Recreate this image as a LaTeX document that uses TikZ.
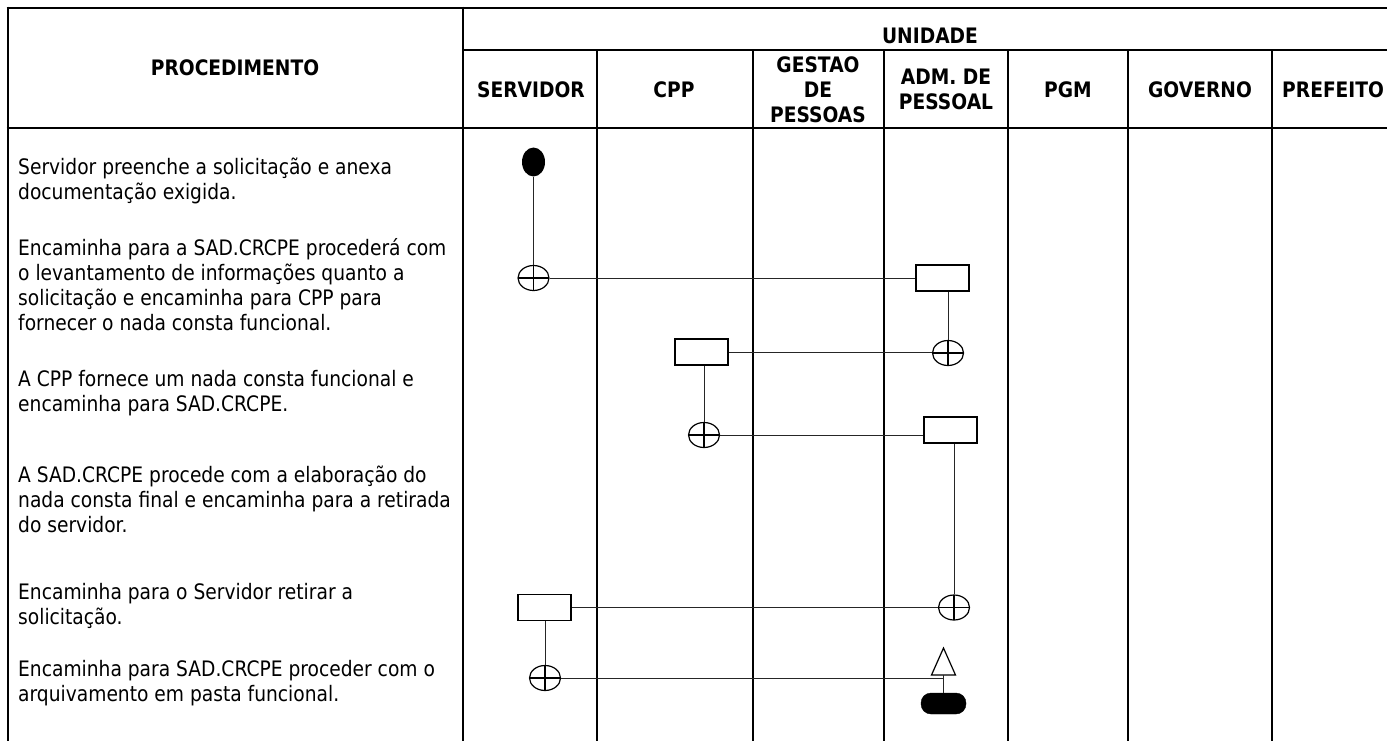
\documentclass[tikz,border=0pt]{standalone}
\usepackage{fontspec}
\newfontfamily\tfont[FakeStretch=0.876]{DejaVu Sans}
\usetikzlibrary{shapes.geometric}
\begin{document}
\begin{tikzpicture}[x=1pt,y=-1pt,
  rule/.style={line width=2.6pt},
  link/.style={line width=1pt, black!85},
  task/.style={draw, rectangle, line width=1.2pt, minimum width=53pt, minimum height=26pt, inner sep=0pt},
  joint/.style={draw, ellipse, line width=1.2pt, minimum width=31pt, minimum height=25pt, inner sep=0pt,
    path picture={\draw[line width=1.2pt]
      (path picture bounding box.north) -- (path picture bounding box.south)
      (path picture bounding box.west) -- (path picture bounding box.east);}},
  txt/.style={anchor=base west, inner sep=0pt, font=\tfont\fontsize{21.3}{25}\selectfont},
  head/.style={anchor=base, inner sep=0pt, font=\tfont\bfseries\fontsize{21.3}{25}\selectfont},
]
\useasboundingbox (0,0) rectangle (1387,741);
\clip (0,0) rectangle (1387,741);

% table rules
\draw[rule] (6.7,8) -- (1387,8);
\draw[rule] (8,6.7) -- (8,741);
\draw[rule] (463,6.7) -- (463,741);
\draw[rule] (463,50) -- (1387,50);
\draw[rule] (6.7,128) -- (1387,128);
\foreach \x in {597,753,884,1008,1128,1272} \draw[rule] (\x,50) -- (\x,741);

% header
\node[head] (hproc) at (235,76) {PROCEDIMENTO};
\node[head] (huni) at (930,44) {UNIDADE};
\node[head] (hserv) at (531,98) {SERVIDOR};
\node[head] (hcpp) at (674,98) {CPP};
\node[head] (hg1) at (818,73) {GESTAO};
\node[head] (hg2) at (818,98) {DE};
\node[head] (hg3) at (818,123) {PESSOAS};
\node[head] (ha1) at (946,85) {ADM. DE};
\node[head] (ha2) at (946,110) {PESSOAL};
\node[head] (hpgm) at (1068,98) {PGM};
\node[head] (hgov) at (1200,98) {GOVERNO};
\node[head, anchor=base west] (hpref) at (1282,98) {PREFEITO};

% procedure text
\foreach \yy/\tx [count=\i] in {
  175/{Servidor preenche a solicitação e anexa},
  200/{documentação exigida.},
  255/{Encaminha para a SAD.CRCPE procederá com},
  280/{o levantamento de informações quanto a},
  305/{solicitação e encaminha para CPP para},
  330/{fornecer o nada consta funcional.},
  386/{A CPP fornece um nada consta funcional e},
  411/{encaminha para SAD.CRCPE.},
  482/{A SAD.CRCPE procede com a elaboração do},
  507/{nada consta final e encaminha para a retirada},
  532/{do servidor.},
  599/{Encaminha para o Servidor retirar a},
  624/{solicitação.},
  676/{Encaminha para SAD.CRCPE proceder com o},
  701/{arquivamento em pasta funcional.}}
  {\node[txt] (t\i) at (18,\yy) {\tx};}

% flow symbols
\node[fill=black, ellipse, minimum width=23pt, minimum height=29pt, inner sep=0pt] (start) at (533.5,162) {};
\node[joint] (c1) at (533.5,278) {};
\node[task] (r1) at (942.5,278) {};
\node[joint] (c2) at (948,353) {};
\node[task] (rc) at (701.5,352) {};
\node[joint] (c3) at (704,435) {};
\node[task] (r2) at (950.5,430) {};
\node[joint] (c4) at (954,607.5) {};
\node[task] (r3) at (544.5,607.5) {};
\node[joint] (c5) at (545,678) {};
\coordinate (tb) at (943.5,675);
\node[draw, fill=black, rounded corners=10pt, minimum width=45pt, minimum height=21pt, inner sep=0pt] (fim) at (943.5,703.5) {};
\draw[line width=1.2pt, fill=white] (tb) ++(-12,0) -- ++(24,0) -- ++(-12,-27) -- cycle;

% connectors
\draw[link] (start.south) -- (c1.north);
\draw[link] (c1.east) -- (r1.west);
\draw[link] (r1.south -| c2) -- (c2.north);
\draw[link] (rc.east) -- (rc.east -| c2.west);
\draw[link] (rc.south -| c3) -- (c3.north);
\draw[link] (c3.east) -- (c3.east -| r2.west);
\draw[link] (r2.south -| c4) -- (c4.north);
\draw[link] (r3.east) -- (r3.east -| c4.west);
\draw[link] (r3.south -| c5) -- (c5.north);
\draw[link] (c5.east) -- (c5.east -| tb);
\draw[link] (tb) -- (fim.north);
\end{tikzpicture}
\end{document}
